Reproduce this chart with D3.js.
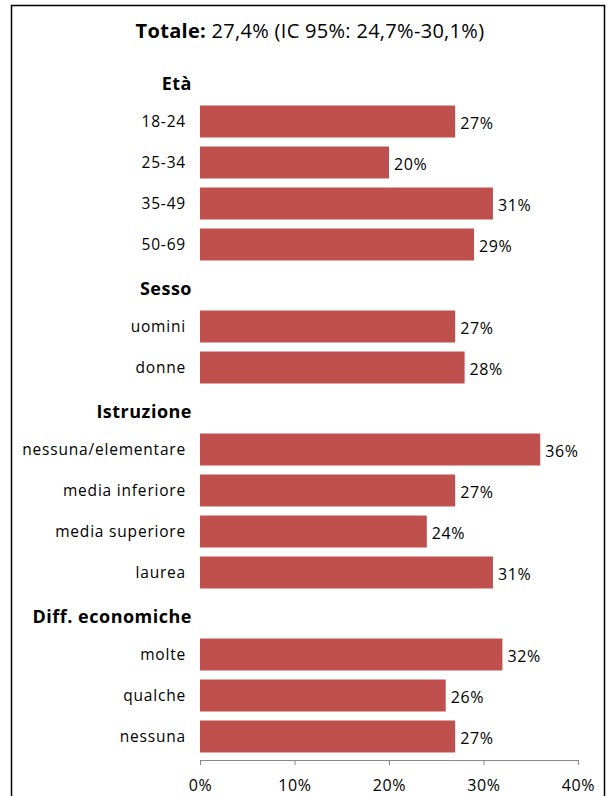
<!DOCTYPE html>
<html><head><meta charset="utf-8">
<script src="https://cdn.jsdelivr.net/npm/d3@7"></script>
<style>body{margin:0;background:#fff;}svg{display:block;font-family:"Open Sans",sans-serif;}</style>
</head><body>
<svg id="c" width="609" height="796"></svg>
<script>
const categories = ["Età","18-24","25-34","35-49","50-69","Sesso","uomini","donne","Istruzione","nessuna/elementare","media inferiore","media superiore","laurea","Diff. economiche","molte","qualche","nessuna"];
const isHeader = [true,false,false,false,false,true,false,false,true,false,false,false,false,true,false,false,false];
const values = [null,27,20,31,29,null,27,28,null,36,27,24,31,null,32,26,27];
const xTicks = [0,10,20,30,40];
const titleBold = "Totale:";
const titleRest = " 27,4% (IC 95%: 24,7%-30,1%)";

const svg = d3.select("#c");
svg.append("rect").attr("x",11.5).attr("y",5.5).attr("width",593).attr("height",820)
  .attr("fill","none").attr("stroke","#000").attr("stroke-width",1.5);

const x = d3.scaleLinear().domain([0,40]).range([200,578]);
const y = d3.scaleBand().domain(categories.map((c,i)=>i)).range([60,757]).paddingInner(0.22).paddingOuter(0.11);

const t = svg.append("text").attr("x",310).attr("y",38).attr("text-anchor","middle").attr("font-size",20)
  .attr("letter-spacing",0.3).attr("fill","#000");
t.append("tspan").attr("font-weight","bold").text(titleBold);
t.append("tspan").text(titleRest);

const rows = categories.map((c,i)=>({c,i,v:values[i],h:isHeader[i]}));
svg.selectAll("rect.bar").data(rows.filter(d=>!d.h)).enter().append("rect")
  .attr("class","bar").attr("x",x(0)).attr("y",d=>y(d.i)).attr("height",y.bandwidth())
  .attr("width",d=>x(d.v)-x(0)).attr("fill","#C0504D");

svg.selectAll("text.val").data(rows.filter(d=>!d.h)).enter().append("text")
  .attr("x",d=>x(d.v)+5).attr("y",d=>y(d.i)+y.bandwidth()/2+2).attr("dy","0.35em")
  .attr("font-size",16).attr("letter-spacing",0.6).attr("fill","#000").text(d=>d.v+"%");

svg.selectAll("text.cat").data(rows).enter().append("text")
  .attr("x",d=>d.h?192:186).attr("y",d=>y(d.i)+y.bandwidth()/2+(d.h?3:0)).attr("dy","0.35em")
  .attr("text-anchor","end").attr("font-size",d=>d.h?18:15.5).attr("font-weight",d=>d.h?"bold":"normal")
  .attr("letter-spacing",d=>d.h?0.5:0.8).attr("fill","#000").text(d=>d.c);

const ax = svg.append("g").attr("transform","translate(0,760)")
  .call(d3.axisBottom(x).tickValues(xTicks).tickFormat(d=>d+"%").tickSize(5).tickPadding(15));
ax.select(".domain").attr("stroke","#888");
ax.selectAll(".tick line").attr("stroke","#888");
ax.selectAll(".tick text").attr("font-size",16).attr("letter-spacing",0.6).attr("fill","#000").attr("font-family","'Open Sans',sans-serif");
</script>
</body></html>
